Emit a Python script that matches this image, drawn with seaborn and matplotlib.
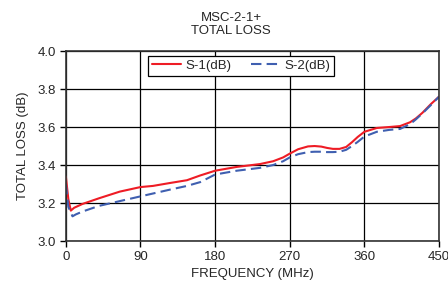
import numpy as np
import pandas as pd
import matplotlib
matplotlib.use("Agg")
import matplotlib.pyplot as plt
import seaborn as sns

freq_s1 = [0, 3, 6, 10, 20, 40, 65, 90, 105, 125, 146, 162, 180, 206, 234, 250, 262, 270, 280,
           292, 300, 308, 315, 322, 330, 338, 345, 352, 360, 375, 390, 403, 415, 422, 430,
           440, 450]
loss_s1 = [3.34, 3.22, 3.16, 3.175, 3.195, 3.225, 3.26, 3.284, 3.29, 3.305, 3.32, 3.345, 3.37,
           3.39, 3.405, 3.42, 3.44, 3.46, 3.483, 3.498, 3.50, 3.497, 3.49, 3.485, 3.485,
           3.495, 3.52, 3.548, 3.575, 3.595, 3.60, 3.605, 3.625, 3.645, 3.675, 3.72, 3.76]
freq_s2 = [0, 3, 8, 12, 20, 40, 65, 90, 105, 125, 146, 162, 180, 206, 234, 250, 262, 270, 280,
           292, 300, 308, 315, 322, 330, 338, 345, 352, 360, 375, 390, 403, 415, 422, 430,
           440, 450]
loss_s2 = [3.30, 3.18, 3.13, 3.14, 3.155, 3.185, 3.21, 3.235, 3.25, 3.27, 3.29, 3.31, 3.35,
           3.37, 3.385, 3.40, 3.42, 3.44, 3.457, 3.468, 3.47, 3.47, 3.468, 3.468, 3.47,
           3.48, 3.50, 3.522, 3.55, 3.575, 3.585, 3.59, 3.615, 3.64, 3.672, 3.715, 3.76]
x_ticks = [0, 90, 180, 270, 360, 450]
y_ticks = [3.0, 3.2, 3.4, 3.6, 3.8, 4.0]

sns.set_theme(style="white")
plt.rcParams['font.family'] = ['Liberation Sans', 'DejaVu Sans']

fig = plt.figure(figsize=(4.48, 2.95), dpi=100)
ax = fig.add_axes([0.147, 0.183, 0.833, 0.644])

sns.lineplot(x=freq_s1, y=loss_s1, ax=ax, color="#ee1c25", lw=1.5, label="S-1(dB)")
sns.lineplot(x=freq_s2, y=loss_s2, ax=ax, color="#3f5fb0", lw=1.5, label="S-2(dB)",
             linestyle=(0, (5, 2.5)))

ax.set_xlim(0, 450)
ax.set_ylim(3.0, 4.0)
ax.set_xticks(x_ticks)
ax.set_yticks(y_ticks)
ax.set_yticklabels([f"{v:.1f}" for v in y_ticks])
ax.grid(True, color="black", lw=0.9)
for s in ax.spines.values():
    s.set_color("#333333")
    s.set_linewidth(1.2)
ax.tick_params(axis="both", direction="out", length=4, width=1, color="black",
               labelsize=9.5, pad=3, bottom=True, left=True)
ax.set_xlabel("FREQUENCY (MHz)", fontsize=9.5, labelpad=4)
ax.set_ylabel("TOTAL LOSS (dB)", fontsize=9.5, labelpad=6)
fig.text(0.516, 0.96, "MSC-2-1+\nTOTAL LOSS", ha="center", va="top", fontsize=9.5,
         linespacing=1.1)

leg = ax.legend(loc="upper center", bbox_to_anchor=(0.47, 0.975), ncol=2, fontsize=9.5,
                frameon=True, fancybox=False, handlelength=2.2, columnspacing=1.5,
                borderpad=0.3, handletextpad=0.3, borderaxespad=0)
leg.get_frame().set_edgecolor("black")
leg.get_frame().set_linewidth(0.9)
leg.get_frame().set_alpha(1)

fig.savefig("out.png", dpi=100)
